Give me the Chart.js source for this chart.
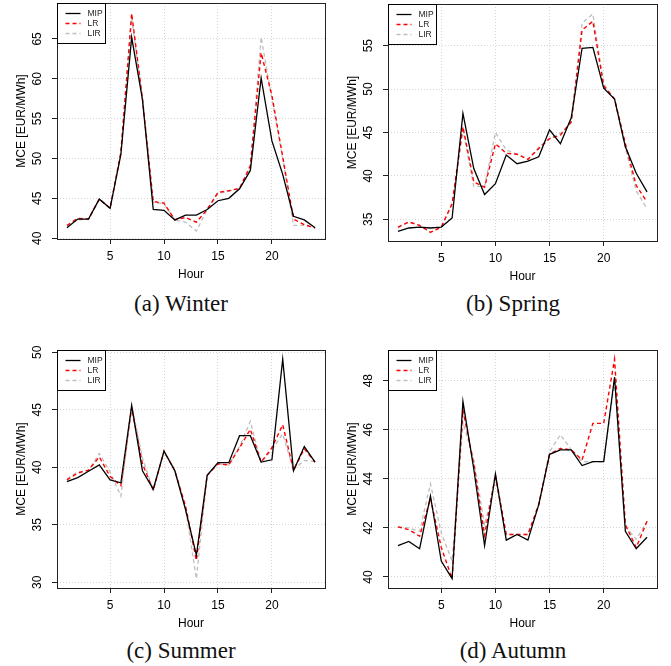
<!DOCTYPE html>
<html>
<head>
<meta charset="utf-8">
<script src="https://cdn.jsdelivr.net/npm/chart.js@4.4.1/dist/chart.umd.min.js"></script>
<style>
  body { margin: 0; background: #fff; width: 671px; height: 666px; position: relative; overflow: hidden; }
  .panel { position: absolute; }
  .cap { position: absolute; width: 220px; margin-left: -110px; text-align: center;
         font-family: "Liberation Serif", "DejaVu Serif", serif; font-size: 23px; line-height: 26px; color: #111; }
</style>
</head>
<body>
<div class="panel" style="left:0;top:0"><canvas id="winter" width="335" height="290"></canvas></div>
<div class="panel" style="left:335px;top:0"><canvas id="spring" width="336" height="290"></canvas></div>
<div class="panel" style="left:0;top:340px"><canvas id="summer" width="335" height="290"></canvas></div>
<div class="panel" style="left:335px;top:340px"><canvas id="autumn" width="336" height="290"></canvas></div>
<div class="cap" style="left:181px;top:291px">(a) Winter</div>
<div class="cap" style="left:513px;top:291px">(b) Spring</div>
<div class="cap" style="left:181px;top:638px">(c) Summer</div>
<div class="cap" style="left:513px;top:638px">(d) Autumn</div>
<script>
// hours of the day and axis ticks
var hours = [1, 2, 3, 4, 5, 6, 7, 8, 9, 10, 11, 12, 13, 14, 15, 16, 17, 18, 19, 20, 21, 22, 23, 24];
var hourTicks = [5, 10, 15, 20];
var seriesNames = ['MIP', 'LR', 'LIR'];

// MCE values
var winterMIP = [41.3, 42.4, 42.4, 44.9, 43.75, 50.5, 65.2, 57.4, 43.6, 43.5, 42.3, 42.9, 42.9, 43.6, 44.7, 45.0, 46.2, 48.5, 60.1, 52.2, 48.0, 42.75, 42.3, 41.3];
var winterLR  = [41.6, 42.5, 42.4, 44.9, 43.75, 50.8, 68.2, 57.5, 44.6, 44.4, 42.3, 42.6, 42.0, 43.6, 45.75, 45.95, 46.25, 49.1, 63.25, 57.9, 50.2, 42.4, 41.7, 41.3];
var winterLIR = [41.5, 42.3, 42.4, 44.9, 43.75, 50.6, 67.6, 57.5, 44.5, 44.3, 42.3, 42.0, 40.9, 43.6, 45.6, 45.9, 46.2, 49.0, 65.2, 57.5, 50.0, 41.6, 41.6, 41.3];
var winterTicks = [40, 45, 50, 55, 60, 65];

var springMIP = [33.6, 34.0, 34.1, 34.0, 34.1, 35.15, 47.2, 40.85, 37.85, 39.1, 42.4, 41.4, 41.7, 42.2, 45.3, 43.7, 46.7, 54.7, 54.8, 50.1, 48.85, 43.35, 40.3, 38.15];
var springLR  = [34.1, 34.7, 34.3, 33.5, 34.1, 36.8, 45.65, 39.3, 38.7, 43.7, 42.6, 42.5, 41.9, 43.15, 44.3, 44.7, 46.2, 56.8, 57.8, 50.35, 48.85, 43.7, 38.9, 37.0];
var springLIR = [34.0, 34.7, 34.3, 33.5, 34.1, 36.8, 45.3, 38.8, 38.8, 45.0, 43.0, 42.5, 41.9, 43.3, 44.3, 44.9, 46.2, 57.6, 58.65, 50.6, 48.85, 43.2, 38.3, 36.2];
var springTicks = [35, 40, 45, 50, 55];

var summerMIP = [38.75, 39.1, 39.65, 40.2, 38.9, 38.65, 45.35, 39.7, 38.1, 41.4, 39.7, 36.3, 32.35, 39.3, 40.4, 40.4, 42.75, 42.75, 40.45, 40.65, 49.4, 39.7, 41.8, 40.45];
var summerLR  = [38.9, 39.5, 39.75, 40.9, 39.2, 38.4, 45.2, 40.3, 38.0, 41.4, 39.7, 36.6, 31.9, 39.3, 40.3, 40.2, 41.7, 43.3, 40.45, 41.7, 43.7, 39.75, 41.6, 40.45];
var summerLIR = [39.0, 39.6, 39.7, 41.2, 39.6, 37.5, 45.5, 40.8, 38.0, 41.4, 39.8, 36.4, 30.3, 39.3, 40.3, 40.2, 41.8, 44.0, 40.4, 41.5, 42.9, 39.8, 40.6, 40.5];
var summerTicks = [30, 35, 40, 45, 50];

var autumnMIP = [41.28, 41.45, 41.15, 43.3, 40.65, 39.93, 47.15, 44.4, 41.28, 44.2, 41.5, 41.73, 41.5, 42.95, 45.0, 45.18, 45.18, 44.54, 44.7, 44.7, 48.15, 41.86, 41.15, 41.62];
var autumnLR  = [42.04, 41.93, 41.66, 43.2, 41.2, 39.93, 46.8, 44.6, 41.7, 44.15, 41.73, 41.73, 41.73, 42.95, 45.0, 45.24, 45.18, 44.77, 46.26, 46.26, 48.87, 42.13, 41.2, 42.27];
var autumnLIR = [42.04, 42.0, 41.86, 43.8, 41.8, 40.65, 46.3, 44.8, 42.1, 44.0, 41.73, 41.73, 41.73, 42.95, 45.1, 45.8, 45.18, 44.7, 44.7, 44.7, 47.95, 42.07, 41.53, 42.27];
var autumnTicks = [40, 42, 44, 46, 48];

var sans = '"Liberation Sans", Arial, sans-serif';
Chart.defaults.font.family = sans;
Chart.defaults.color = '#000';

// box, rotated y labels, axis titles and the small legend, in R style
function framePlugin() {
    return {
        id: 'frame',
        afterDraw: function(chart) {
            var ctx = chart.ctx, a = chart.chartArea, y = chart.scales.y;
            ctx.save();
            ctx.strokeStyle = '#222';
            ctx.lineWidth = 1;
            ctx.strokeRect(Math.round(a.left) + 0.5, Math.round(a.top) + 0.5,
                Math.round(a.right - a.left), Math.round(a.bottom - a.top));

            ctx.fillStyle = '#000';
            ctx.font = '12px ' + sans;
            ctx.textAlign = 'center';
            ctx.textBaseline = 'middle';
            y.ticks.forEach(function(t) {
                ctx.save();
                ctx.translate(a.left - 19, y.getPixelForValue(t.value));
                ctx.rotate(-Math.PI / 2);
                ctx.fillText(String(t.value), 0, 0);
                ctx.restore();
            });
            ctx.save();
            ctx.translate(a.left - 35, (a.top + a.bottom) / 2);
            ctx.rotate(-Math.PI / 2);
            ctx.fillText('MCE [EUR/MWh]', 0, 0);
            ctx.restore();
            ctx.fillText('Hour', (a.left + a.right) / 2, a.bottom + 36);

            // legend
            var lx = Math.round(a.left) + 0.5, ly = Math.round(a.top) + 0.5;
            ctx.fillStyle = '#fff';
            ctx.fillRect(lx, ly, 48, 40);
            ctx.strokeStyle = '#000';
            ctx.strokeRect(lx, ly, 48, 40);
            ctx.font = '8.5px ' + sans;
            ctx.textAlign = 'left';
            chart.data.datasets.forEach(function(ds, i) {
                var ry = ly + 10 + i * 10;
                ctx.strokeStyle = ds.borderColor;
                ctx.lineWidth = ds.borderWidth;
                ctx.setLineDash(ds.borderDash || []);
                ctx.beginPath();
                ctx.moveTo(lx + 8, ry);
                ctx.lineTo(lx + 23, ry);
                ctx.stroke();
                ctx.setLineDash([]);
                ctx.fillStyle = '#222';
                ctx.fillText(ds.label, lx + 30, ry + 0.5);
            });
            ctx.restore();
        }
    };
}

function drawPanel(id, mip, lr, lir, yTicks, yMin, yMax, pad, yWidth, xHeight) {
    var series = [mip, lr, lir];
    var colors = ['#000000', '#ff0000', '#bebebe'];
    var widths = [1.3, 1.4, 1.3];
    var dashes = [[], [4, 3], [4, 3]];
    var datasets = seriesNames.map(function(name, i) {
        return {
            label: name,
            data: hours.map(function(h, k) { return {x: h, y: series[i][k]}; }),
            borderColor: colors[i],
            borderWidth: widths[i],
            borderDash: dashes[i],
            pointRadius: 0,
            tension: 0,
            fill: false,
            order: i
        };
    });
    new Chart(document.getElementById(id).getContext('2d'), {
        type: 'line',
        data: {datasets: datasets},
        options: {
            responsive: false,
            animation: false,
            layout: {padding: pad},
            plugins: {legend: {display: false}, tooltip: {enabled: false}},
            scales: {
                x: {
                    type: 'linear',
                    min: 0.08,
                    max: 24.92,
                    afterBuildTicks: function(s) { s.ticks = hourTicks.map(function(v) { return {value: v}; }); },
                    afterFit: function(s) { s.height = xHeight; },
                    ticks: {font: {size: 12}, color: '#000', padding: 5, maxRotation: 0, autoSkip: false},
                    grid: {color: '#d4d4d4', tickColor: '#222', tickLength: 5, lineWidth: 1},
                    border: {display: false, dash: [1, 2]}
                },
                y: {
                    type: 'linear',
                    min: yMin,
                    max: yMax,
                    afterBuildTicks: function(s) { s.ticks = yTicks.map(function(v) { return {value: v}; }); },
                    afterFit: function(s) { s.width = yWidth; },
                    ticks: {display: false},
                    grid: {color: '#d4d4d4', tickColor: '#222', tickLength: 5, lineWidth: 1},
                    border: {display: false, dash: [1, 2]}
                }
            }
        },
        plugins: [framePlugin()]
    });
}

drawPanel('winter', winterMIP, winterLR, winterLIR, winterTicks, 39.9, 69.5,
    {top: 3, right: 10, left: 0, bottom: 0}, 57, 51);
drawPanel('spring', springMIP, springLR, springLIR, springTicks, 32.5, 59.8,
    {top: 4, right: 14, left: 0, bottom: 0}, 53, 49);
drawPanel('summer', summerMIP, summerLR, summerLIR, summerTicks, 29.5, 50.2,
    {top: 10, right: 10, left: 0, bottom: 0}, 57, 42);
drawPanel('autumn', autumnMIP, autumnLR, autumnLIR, autumnTicks, 39.55, 49.25,
    {top: 10, right: 14, left: 0, bottom: 0}, 53, 42);
</script>
</body>
</html>
